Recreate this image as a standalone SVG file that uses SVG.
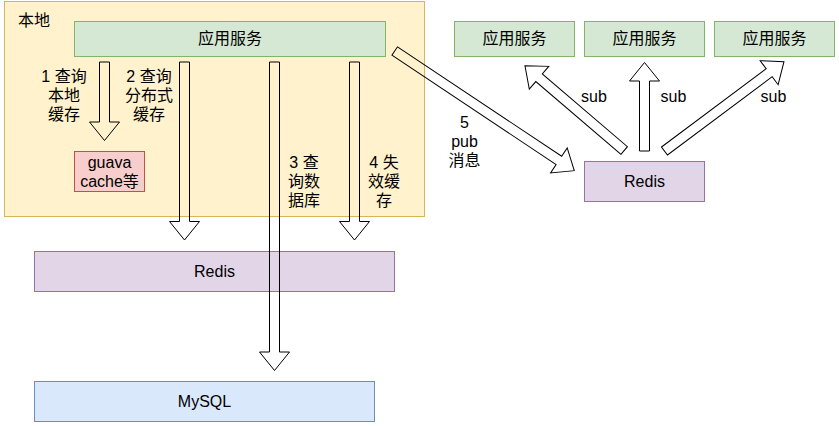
<svg xmlns="http://www.w3.org/2000/svg" width="839" height="426" viewBox="0 0 839 426">
<style>
text{font-family:"Liberation Sans","Noto Sans CJK SC",Arial,sans-serif;font-size:16px;fill:#000;text-anchor:middle}
.l{text-anchor:start}
.g{fill:#d5e8d4;stroke:#82b366}
.p{fill:#e1d5e7;stroke:#9673a6}
.b{fill:#dae8fc;stroke:#6c8ebf}
.r{fill:#f8cecc;stroke:#b85450}
.y{fill:#fff2cc;stroke:#d6b656}
rect{stroke-width:1}
.a{fill:none;stroke:#000;stroke-width:1;stroke-linejoin:miter}
</style>
<rect width="839" height="426" fill="#fff"/>
<g id="local">
<rect class="y" x="4.5" y="1.5" width="420" height="215"/>
<text class="l" x="18" y="26">本地</text>
</g>
<g id="app-main">
<rect class="g" x="74.5" y="21.5" width="311" height="35"/>
<text x="230" y="44">应用服务</text>
</g>
<g id="guava">
<rect class="r" x="74.5" y="151.5" width="70" height="40"/>
<text x="109.5" y="167.5">guava</text>
<text x="109.5" y="186.5">cache等</text>
</g>
<g id="redis-left">
<rect class="p" x="34.5" y="251.5" width="360" height="40"/>
<text x="214.5" y="277">Redis</text>
</g>
<g id="mysql">
<rect class="b" x="34.5" y="381.5" width="340" height="40"/>
<text x="204.5" y="407">MySQL</text>
</g>
<g id="app-1">
<rect class="g" x="454.5" y="21.5" width="120" height="35"/>
<text x="514.5" y="44">应用服务</text>
</g>
<g id="app-2">
<rect class="g" x="584.5" y="21.5" width="120" height="35"/>
<text x="644.5" y="44">应用服务</text>
</g>
<g id="app-3">
<rect class="g" x="714.5" y="21.5" width="120" height="35"/>
<text x="774.5" y="44">应用服务</text>
</g>
<g id="redis-right">
<rect class="p" x="584.5" y="161.5" width="120" height="40"/>
<text x="644.5" y="187">Redis</text>
</g>
<g id="connectors">
<polygon class="a" points="99.5,62 109.5,62 109.5,122 119.5,122 104.5,140.5 89.5,122 99.5,122"/>
<polygon class="a" points="179.5,62 189.5,62 189.5,221.5 199.5,221.5 184.5,240 169.5,221.5 179.5,221.5"/>
<polygon class="a" points="269.5,62 279.5,62 279.5,352 289.5,352 274.5,370.5 259.5,352 269.5,352"/>
<polygon class="a" points="349.5,62 359.5,62 359.5,221.5 369.5,221.5 354.5,240 339.5,221.5 349.5,221.5"/>
<polygon class="a" transform="translate(394.7,51) rotate(33.68)" points="0,-5 197.3,-5 197.3,-15 215.8,0 197.3,15 197.3,5 0,5"/>
<polygon class="a" transform="translate(624.2,150.5) rotate(-139.5)" points="0,-5 112,-5 112,-15 130.5,0 112,15 112,5 0,5"/>
<polygon class="a" points="639.5,151 639.5,81 629.5,81 644.5,62.5 659.5,81 649.5,81 649.5,151"/>
<polygon class="a" transform="translate(664.5,151) rotate(-36.8)" points="0,-5 130.7,-5 130.7,-15 149.2,0 130.7,15 130.7,5 0,5"/>
<text x="64" y="82">1 查询</text>
<text x="64" y="101">本地</text>
<text x="64" y="120">缓存</text>
<text x="149" y="82">2 查询</text>
<text x="149" y="101">分布式</text>
<text x="149" y="120">缓存</text>
<text x="304" y="167.5">3 查</text>
<text x="304" y="186.5">询数</text>
<text x="304" y="205.5">据库</text>
<text x="384" y="167.5">4 失</text>
<text x="384" y="186.5">效缓</text>
<text x="384" y="205.5">存</text>
<text x="464.5" y="127.5">5</text>
<text x="464.5" y="146.5">pub</text>
<text x="464.5" y="165.5">消息</text>
<text x="594" y="101.5">sub</text>
<text x="673.5" y="101.5">sub</text>
<text x="773.5" y="101.5">sub</text>
</g>
</svg>
